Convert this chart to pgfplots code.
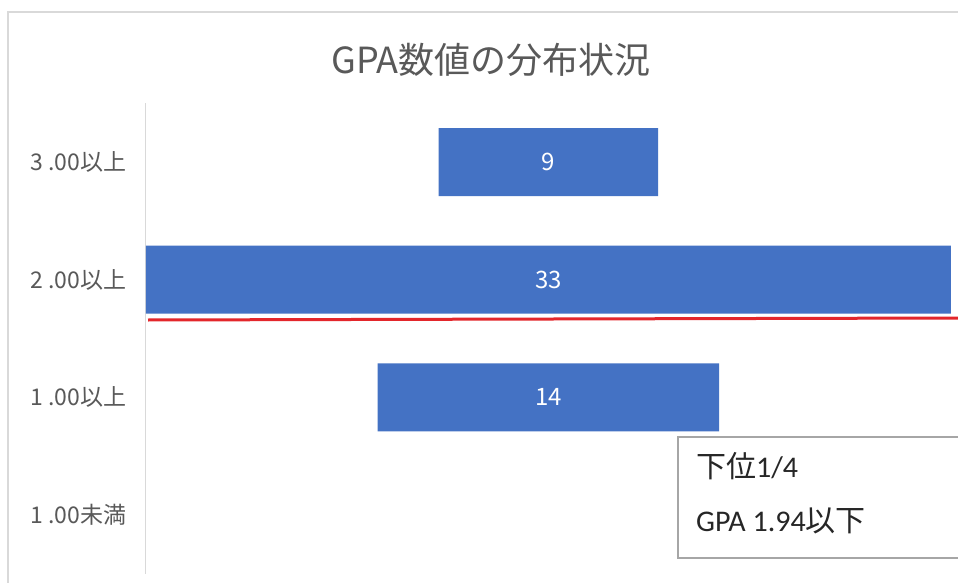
\documentclass[border=0pt]{standalone}
\usepackage{pgfplots}
\pgfplotsset{compat=1.18}
\usepackage{pgfplotstable}
\usepackage{fontspec}
\setmainfont{Noto Sans CJK JP}
\newfontfamily\calfont{Carlito}
\definecolor{barblue}{HTML}{4472C4}
\definecolor{txtgray}{HTML}{595959}
\definecolor{axgray}{HTML}{D9D9D9}
\definecolor{boxgray}{HTML}{A6A6A6}
\definecolor{boxtxt}{HTML}{262626}
\definecolor{redline}{HTML}{E3262B}

\pgfplotstableread{
y off val
0 12 9
1 0 33
2 9.5 14
3 16.5 0
}\gpabars
\pgfplotstableread{
y ctr val
0 16.5 9
1 16.5 33
2 16.5 14
}\gpalabels

\begin{document}
\begin{tikzpicture}
\useasboundingbox (0pt,0pt) rectangle (958pt,582pt);
\fill[white] (0pt,0pt) rectangle (958pt,582pt);
\draw[axgray, line width=1.5pt] (8pt,-5pt) -- (8pt,570pt) -- (970pt,570pt);
\node[txtgray, font=\fontsize{36}{40}\selectfont] at (491pt,522pt) {GPA数値の分布状況};
\begin{axis}[at={(146pt,8.2pt)}, anchor=south west, scale only axis,
  width=812pt, height=470.6pt,
  xbar stacked, bar width=68pt,
  xmin=0, xmax=33.29, ymin=-0.5, ymax=3.5, y dir=reverse,
  axis x line=none, axis y line*=left,
  y axis line style={axgray, line width=1pt},
  xtick=\empty,
  ytick={0,1,2,3}, yticklabels={3 .00以上,2 .00以上,1 .00以上,1 .00未満},
  major tick length=0pt,
  yticklabel style={txtgray, font=\fontsize{23}{26}\selectfont, xshift=-16pt},
  clip=false]
\addplot[draw=none, fill=none] table[x=off, y=y] {\gpabars};
\addplot[fill=barblue, draw=none] table[x=val, y=y] {\gpabars};
\end{axis}
\begin{axis}[at={(146pt,8.2pt)}, anchor=south west, scale only axis,
  width=812pt, height=470.6pt,
  xmin=0, xmax=33.29, ymin=-0.5, ymax=3.5, y dir=reverse,
  hide axis, clip=false,
  /pgf/number format/assume math mode=true]
\addplot[only marks, mark=none, nodes near coords, point meta=explicit,
  every node near coord/.append style={anchor=center, text=white, font=\fontsize{24}{27}\selectfont}]
  table[x=ctr, y=y, meta=val] {\gpalabels};
\end{axis}
\draw[redline, line width=3pt] (148pt,262pt) -- (958pt,264pt);
\draw[boxgray, line width=1.5pt, fill=white] (678pt,24pt) rectangle (970pt,145pt);
\node[anchor=west, text=boxtxt, font=\fontsize{30}{34}\selectfont, inner sep=0pt] at (696pt,116pt) {下位{\calfont 1/4}};
\node[anchor=west, text=boxtxt, font=\fontsize{30}{34}\selectfont, inner sep=0pt] at (696pt,61pt) {{\calfont GPA 1.94}以下};
\end{tikzpicture}
\end{document}
